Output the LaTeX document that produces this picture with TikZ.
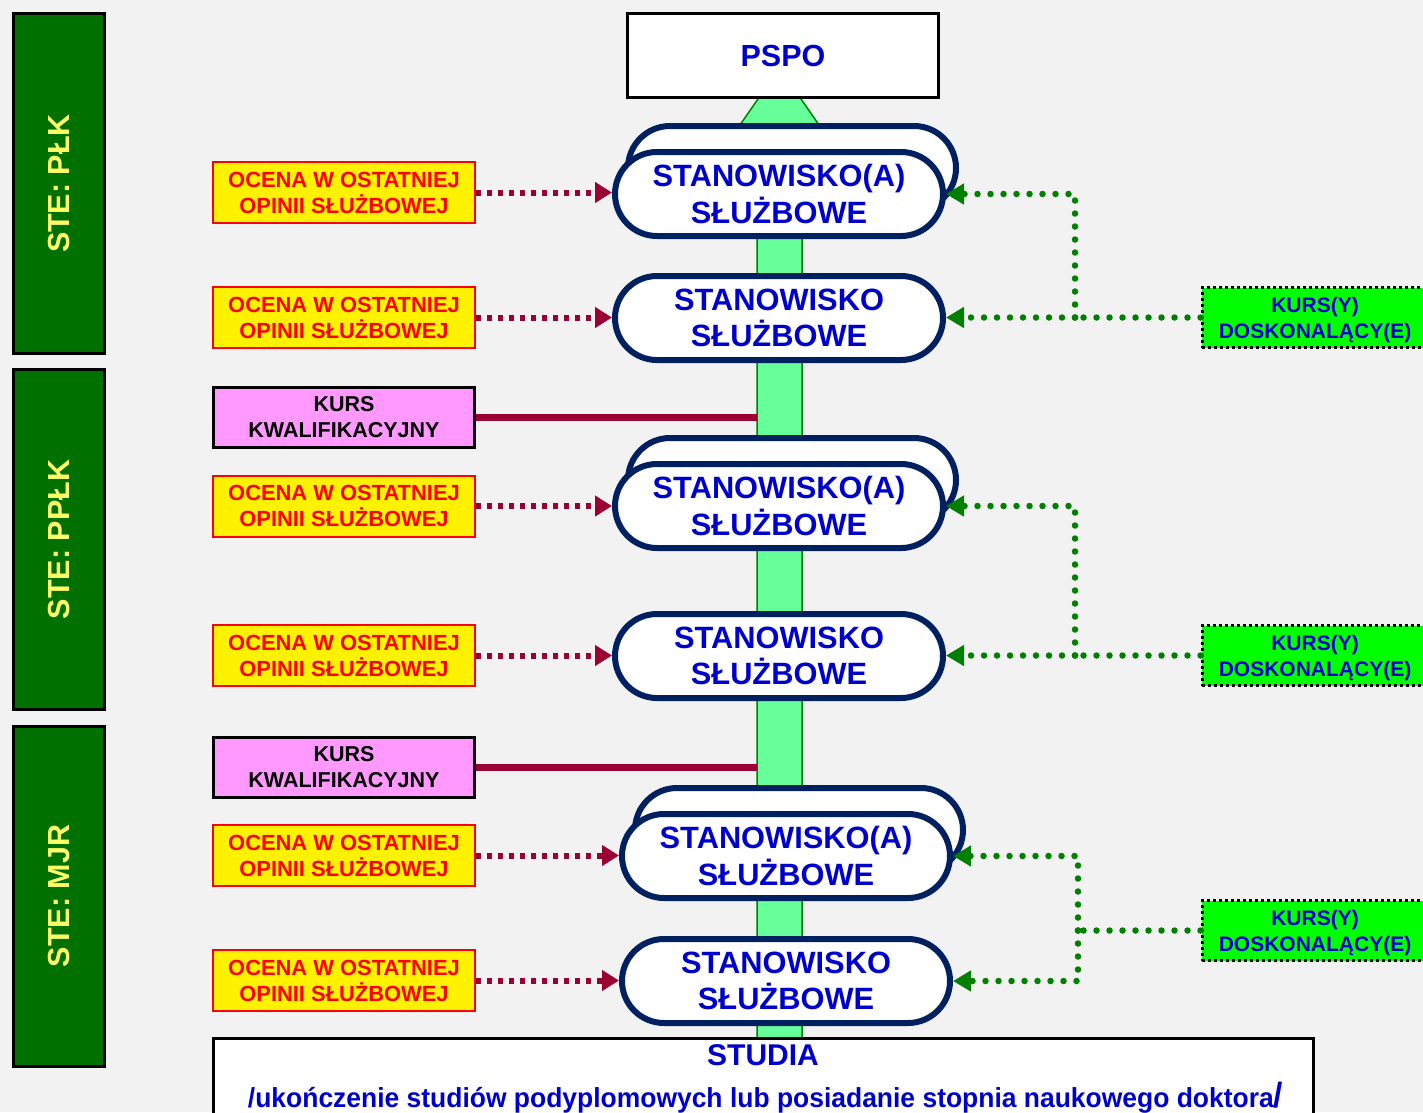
\documentclass[tikz,border=0pt]{standalone}
\usepackage{fontspec}
\setmainfont{Liberation Sans}
\usetikzlibrary{arrows.meta}
\definecolor{bgc}{HTML}{F2F2F2}
\definecolor{barg}{HTML}{007000}
\definecolor{bartxt}{HTML}{FFFF66}
\definecolor{navy}{HTML}{002060}
\definecolor{txtblue}{HTML}{0000CC}
\definecolor{wine}{HTML}{990033}
\definecolor{trunkg}{HTML}{66FF99}
\definecolor{trunkb}{HTML}{008000}
\definecolor{pinkf}{HTML}{FF99FF}
\definecolor{limef}{HTML}{00FF00}
\definecolor{dotg}{HTML}{008000}
\tikzset{
  stebar/.style={draw=black, line width=3pt, fill=barg, rotate=90, minimum width=340pt, minimum height=91pt, inner sep=0pt,
    text=bartxt, font=\bfseries\fontsize{30.5}{30}\selectfont},
  ovalbox/.style={draw=navy, line width=6pt, fill=white, rounded corners=42pt, minimum width=328pt, minimum height=84pt,
    inner sep=0pt, align=center, text=txtblue, font=\bfseries\fontsize{30.8}{36.5}\selectfont},
  ocenabox/.style={draw=red, line width=2pt, fill=yellow, minimum width=262pt, minimum height=61pt, inner sep=0pt,
    align=center, text=red, font=\bfseries\fontsize{21.9}{26}\selectfont},
  kwalbox/.style={draw=black, line width=3pt, fill=pinkf, minimum width=261pt, minimum height=60pt, inner sep=0pt,
    align=center, text=black, font=\bfseries\fontsize{21.5}{26}\selectfont},
  doskbox/.style={draw=black, line width=3pt, dash pattern=on 3pt off 3pt, fill=limef, minimum width=226pt, minimum height=60pt,
    inner sep=0pt},
  dosktext/.style={inner sep=0pt, yshift=-3pt, align=center, text=txtblue, font=\bfseries\fontsize{21}{26}\selectfont},
  ocenaarrow/.style={draw=wine, line width=6pt, dash pattern=on 5pt off 6pt, -{Triangle[length=17pt,width=20pt]}},
  dosklink/.style={draw=dotg, line width=6.5pt, line cap=round, dash pattern=on 0pt off 13pt},
  doskarrow/.style={dosklink, -{Triangle[length=18pt,width=20pt]}},
  kwallink/.style={draw=wine, line width=7pt},
}
\begin{document}
\begin{tikzpicture}[x=1pt,y=-1pt]
\useasboundingbox (0,0) rectangle (1423,1112);
\clip (0,0) rectangle (1423,1112);
\fill[bgc] (0,0) rectangle (1423,1112);

% left rank bars
\node[stebar] (bar1) at (59,183.5) {STE: PŁK};
\node[stebar] (bar2) at (59,539.5) {STE: PPŁK};
\node[stebar] (bar3) at (59,896) {STE: MJR};

% trunk arrow
\fill[trunkg, draw=trunkb, line width=1.5pt] (757,1040) -- (757,135) -- (733,135) -- (779.5,68) -- (826,135) -- (802,135) -- (802,1040) -- cycle;
\coordinate (tl) at (757,0);

% PSPO
\node[draw=black, line width=3pt, fill=white, minimum width=311pt, minimum height=84pt, inner sep=0pt,
  text=txtblue, font=\bfseries\fontsize{30.5}{30}\selectfont] (pspo) at (783,55.5) {PSPO};

% studia box
\node[draw=black, line width=3pt, fill=white, minimum width=1100pt, minimum height=120pt, inner sep=0pt] (studia) at (763.5,1098) {};
\node[anchor=base, inner sep=0pt, text=txtblue, font=\bfseries\fontsize{30}{30}\selectfont] (studiat) at (763,1065) {STUDIA};
\node[anchor=base, inner sep=0pt, text=txtblue, font=\bfseries\fontsize{27.5}{27.5}\selectfont] (studiad) at (765.5,1107)
  {\resizebox{1035pt}{\height}{/ukończenie studiów podyplomowych lub posiadanie stopnia naukowego doktora{\fontsize{35}{35}\selectfont/}}};

% ovals
\node[ovalbox] (o1b) at (792,168) {};
\node[ovalbox] (o1) at (779,194) {STANOWISKO(A)\\SŁUŻBOWE};
\node[ovalbox] (o2) at (779,318) {STANOWISKO\\SŁUŻBOWE};
\node[ovalbox] (o3b) at (792,480) {};
\node[ovalbox] (o3) at (779,506) {STANOWISKO(A)\\SŁUŻBOWE};
\node[ovalbox] (o4) at (779,656) {STANOWISKO\\SŁUŻBOWE};
\node[ovalbox] (o5b) at (799,830) {};
\node[ovalbox] (o5) at (786,856) {STANOWISKO(A)\\SŁUŻBOWE};
\node[ovalbox] (o6) at (786,981) {STANOWISKO\\SŁUŻBOWE};

% ocena boxes
\node[ocenabox] (y1) at (344,192.5) {OCENA W OSTATNIEJ\\OPINII SŁUŻBOWEJ};
\node[ocenabox] (y2) at (344,317.5) {OCENA W OSTATNIEJ\\OPINII SŁUŻBOWEJ};
\node[ocenabox] (y3) at (344,506) {OCENA W OSTATNIEJ\\OPINII SŁUŻBOWEJ};
\node[ocenabox] (y4) at (344,655.5) {OCENA W OSTATNIEJ\\OPINII SŁUŻBOWEJ};
\node[ocenabox] (y5) at (344,855.5) {OCENA W OSTATNIEJ\\OPINII SŁUŻBOWEJ};
\node[ocenabox] (y6) at (344,980.5) {OCENA W OSTATNIEJ\\OPINII SŁUŻBOWEJ};

% kwalifikacyjny
\node[kwalbox] (p1) at (344,417.5) {KURS\\KWALIFIKACYJNY};
\node[kwalbox] (p2) at (344,767.5) {KURS\\KWALIFIKACYJNY};

% doskonalacy
\node[doskbox] (k1) at (1315,317.5) {};
\node[dosktext] (k1t) at (k1.center) {KURS(Y)\\DOSKONALĄCY(E)};
\node[doskbox] (k2) at (1315,655.5) {};
\node[dosktext] (k2t) at (k2.center) {KURS(Y)\\DOSKONALĄCY(E)};
\node[doskbox] (k3) at (1315,930.5) {};
\node[dosktext] (k3t) at (k3.center) {KURS(Y)\\DOSKONALĄCY(E)};

% kwalifikacyjny links
\draw[kwallink] (p1.east) -- (p1.east -| tl);
\draw[kwallink] (p2.east) -- (p2.east -| tl);

% ocena arrows
\draw[ocenaarrow] (y1.east) -- (y1.east -| o1.west);
\draw[ocenaarrow] (y2.east) -- (y2.east -| o2.west);
\draw[ocenaarrow] (y3.east) -- (y3.east -| o3.west);
\draw[ocenaarrow] (y4.east) -- (y4.east -| o4.west);
\draw[ocenaarrow] (y5.east) -- (y5.east -| o5.west);
\draw[ocenaarrow] (y6.east) -- (y6.east -| o6.west);

% doskonalacy links
\coordinate (j1) at (1075,317.5);
\coordinate (j2) at (1075,655.5);
\coordinate (j3) at (1078,930.5);
\draw[dosklink] (k1.west) -- (j1);
\draw[doskarrow] (j1) -- (j1 -| o2.east);
\draw[doskarrow] (j1) |- (o1.east);
\draw[dosklink] (k2.west) -- (j2);
\draw[doskarrow] (j2) -- (j2 -| o4.east);
\draw[doskarrow] (j2) |- (o3.east);
\draw[dosklink] (k3.west) -- (j3);
\draw[doskarrow] (j3) |- (o5.east);
\draw[doskarrow] (j3) |- (o6.east);
\end{tikzpicture}
\end{document}
